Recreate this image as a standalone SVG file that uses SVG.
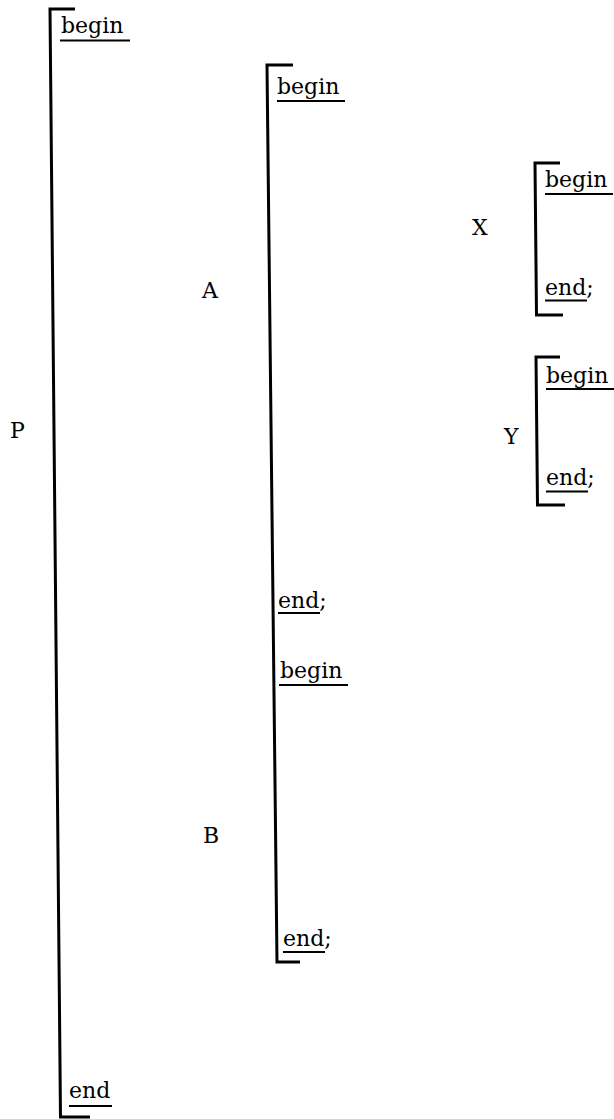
<svg xmlns="http://www.w3.org/2000/svg" width="614" height="1119" viewBox="0 0 614 1119">
<style>
.br{fill:none;stroke:#000;stroke-width:3;stroke-linejoin:miter}
.ul{stroke:#000;stroke-width:1.8}
text{font-family:"DejaVu Serif","Liberation Serif",serif;font-size:22px;fill:#000}
</style>
<rect width="614" height="1119" fill="#fff"/>
<g id="block-P">
<path class="br" d="M75,9 L50,9 L60.5,1117 L90,1117"/>
<text x="61" y="33">begin</text>
<line class="ul" x1="60" y1="40.5" x2="130" y2="40.5"/>
<text x="69" y="1098">end</text>
<line class="ul" x1="69" y1="1106" x2="112" y2="1106"/>
<text x="10" y="438">P</text>
</g>
<g id="block-AB">
<path class="br" d="M293,65 L267,65 L277,962 L300,962"/>
<text x="277" y="94">begin</text>
<line class="ul" x1="277" y1="101" x2="345" y2="101"/>
<text x="278" y="608">end;</text>
<line class="ul" x1="278" y1="613" x2="320" y2="613"/>
<text x="280" y="678">begin</text>
<line class="ul" x1="279" y1="685" x2="348" y2="685"/>
<text x="283" y="946">end;</text>
<line class="ul" x1="283" y1="952" x2="325" y2="952"/>
<text x="202" y="298">A</text>
<text x="203" y="843">B</text>
</g>
<g id="block-X">
<path class="br" d="M560,163 L535,163 L536.5,315 L563,315"/>
<text x="545" y="187">begin</text>
<line class="ul" x1="545" y1="194" x2="613" y2="194"/>
<text x="545" y="295">end;</text>
<line class="ul" x1="545" y1="300.5" x2="587" y2="300.5"/>
<text x="472" y="235">X</text>
</g>
<g id="block-Y">
<path class="br" d="M560,357 L536,357 L537.5,505 L565,505"/>
<text x="546" y="383">begin</text>
<line class="ul" x1="546" y1="389" x2="614" y2="389"/>
<text x="546" y="485">end;</text>
<line class="ul" x1="546" y1="491.5" x2="588" y2="491.5"/>
<text x="504" y="444">Y</text>
</g>
<g id="connectors"/>
</svg>
